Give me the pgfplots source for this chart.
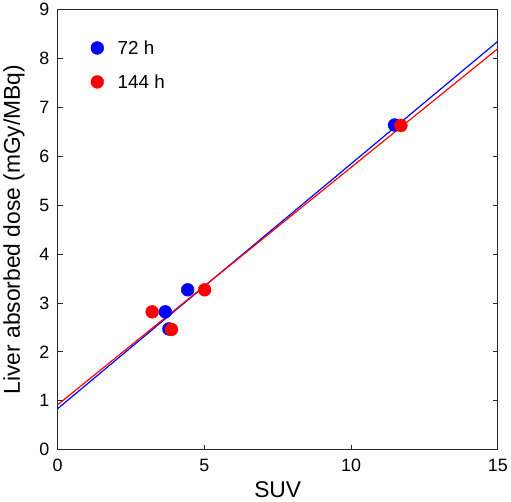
\documentclass[border=0pt]{standalone}
\usepackage{fontspec}
\setmainfont{Liberation Sans}
\usepackage{pgfplots}
\pgfplotsset{compat=1.18}
\definecolor{myblue}{RGB}{0,0,255}
\definecolor{myred}{RGB}{255,0,0}
\begin{document}
\begin{tikzpicture}
\begin{axis}[
  scale only axis,
  width=444pt, height=444pt,
  xmin=0, xmax=15, ymin=0, ymax=9,
  xtick={0,5,10,15}, ytick={0,1,...,9},
  tick align=inside,
  xtick pos=bottom, ytick pos=both,
  major tick length=5pt,
  axis line style={line width=1.3pt, black!85},
  tick style={line width=1pt, black!85},
  /pgf/number format/assume math mode=true,
  tick label style={font=\fontsize{18}{20}\selectfont},
  xticklabel style={yshift=-6pt},
  yticklabel style={xshift=-5pt},
  label style={font=\fontsize{23}{26}\selectfont},
  xlabel={SUV}, ylabel={Liver absorbed dose (mGy/MBq)},
  xlabel style={yshift=-3pt},
  ylabel style={yshift=8pt},
  legend style={draw=none, fill=none, at={(0.075,0.935)}, anchor=north west,
    font=\fontsize{19}{22}\selectfont, row sep=15pt, column sep=12pt, inner sep=0pt},
  legend cell align=left,
]
\addplot[myblue, line width=1.2pt, forget plot] coordinates {(0,0.84) (15,8.35)};
\addplot[myred, line width=1.2pt, forget plot] coordinates {(0,0.92) (15,8.20)};
\addplot[only marks, mark=*, mark size=6.5pt, myblue, mark options={fill=myblue, draw=myblue}] coordinates {
 (4.43,3.27) (3.67,2.82) (3.79,2.47) (11.48,6.64)};
\addlegendentry{72 h}
\addplot[only marks, mark=*, mark size=6.5pt, myred, mark options={fill=myred, draw=myred}] coordinates {
 (3.22,2.82) (5.01,3.27) (3.88,2.46) (11.70,6.63)};
\addlegendentry{144 h}
\end{axis}
\end{tikzpicture}
\end{document}
